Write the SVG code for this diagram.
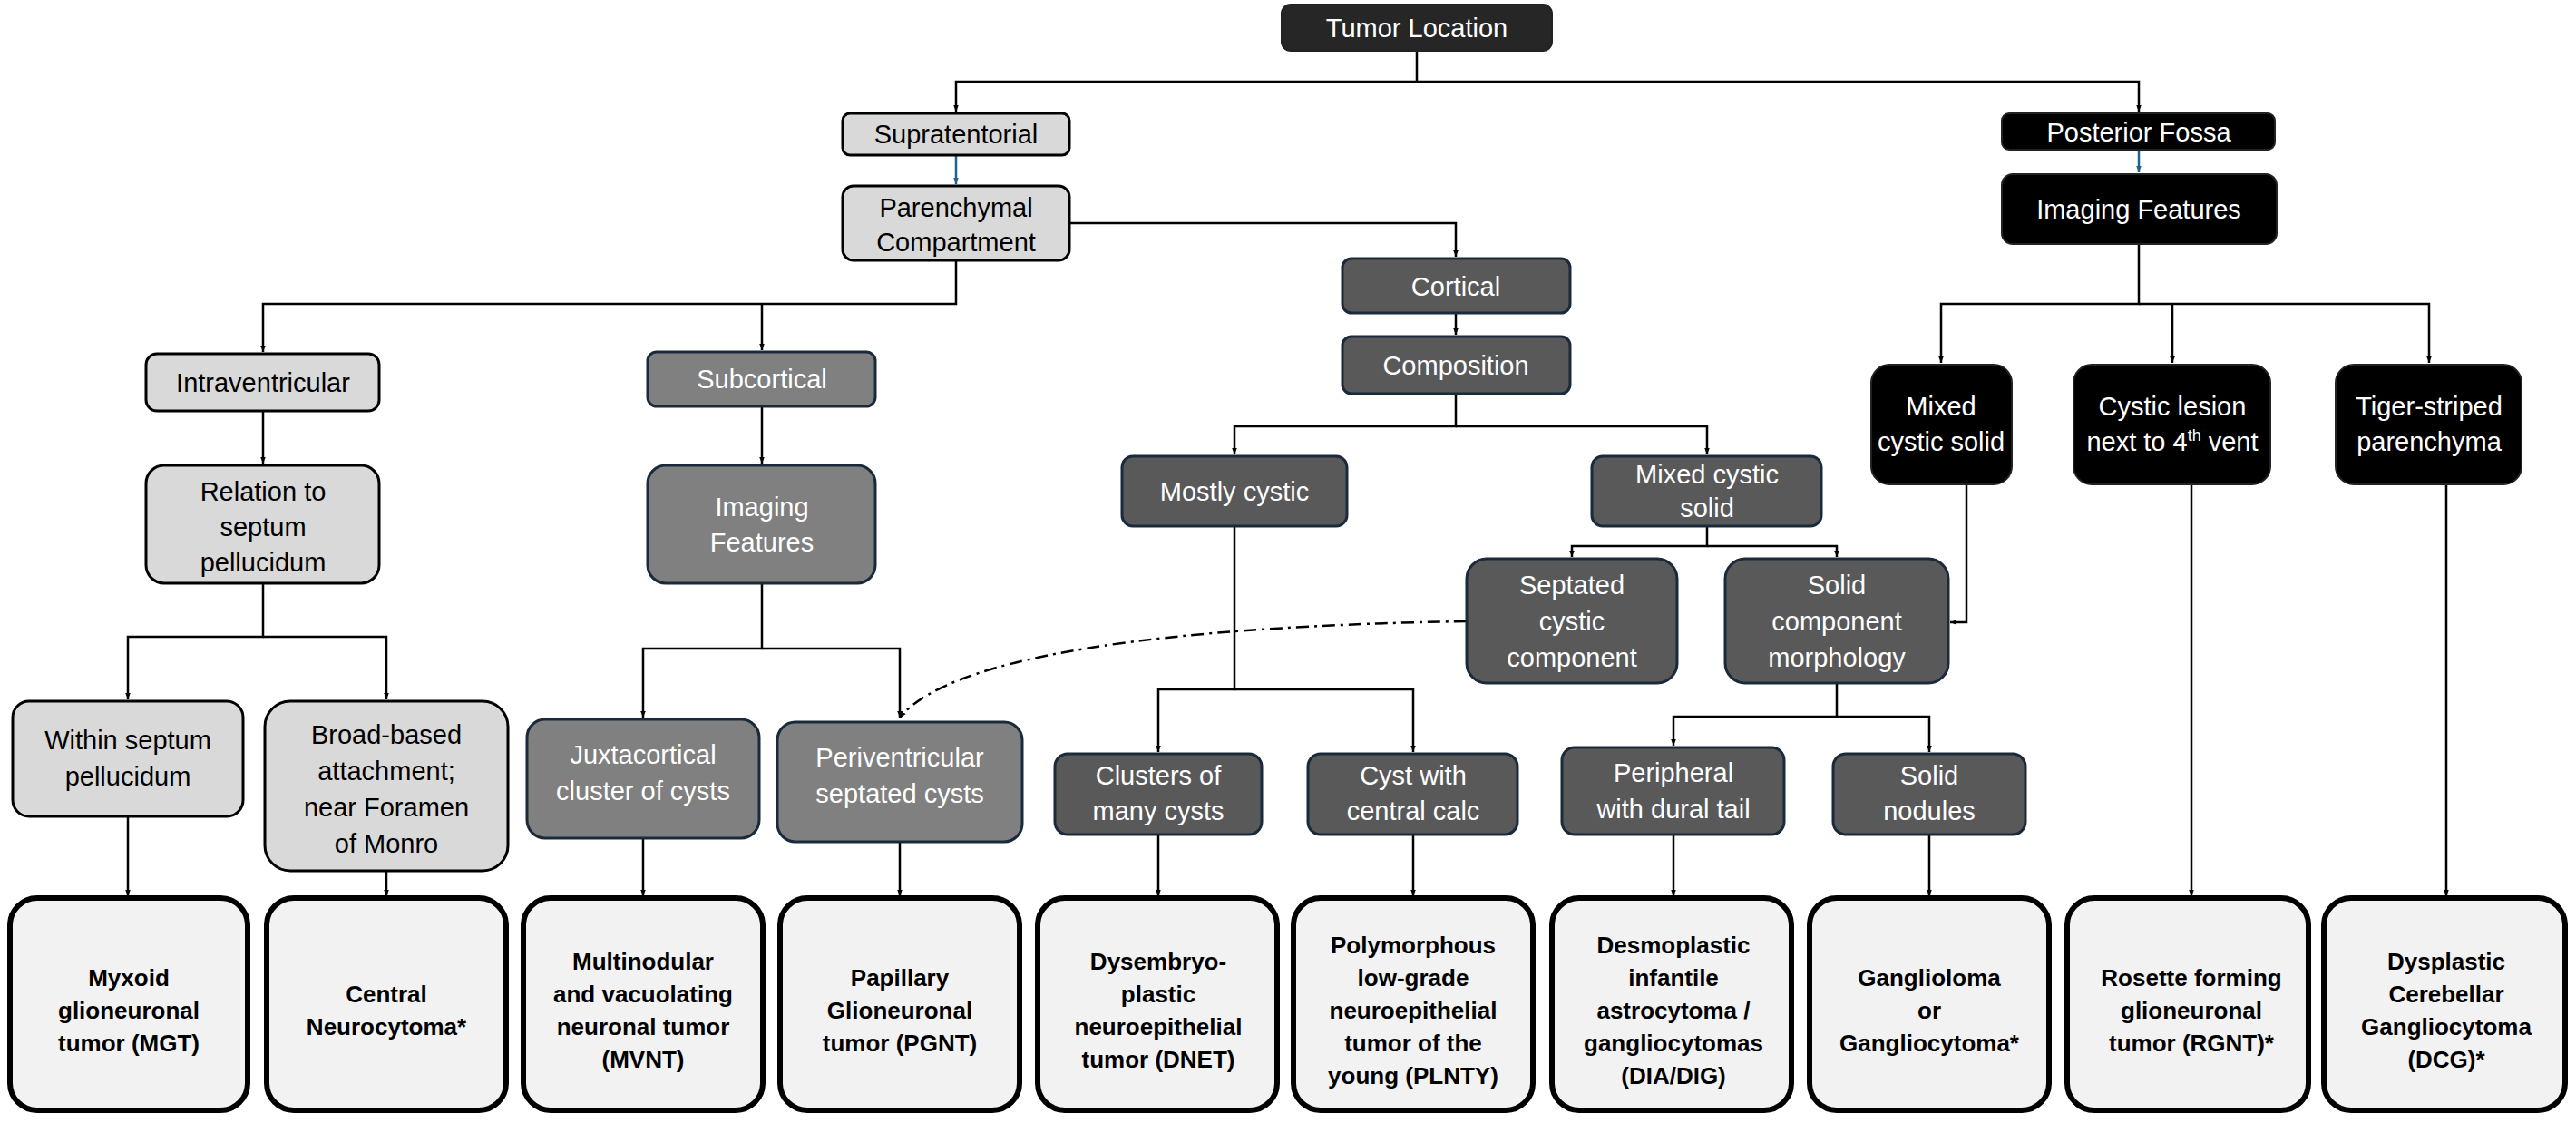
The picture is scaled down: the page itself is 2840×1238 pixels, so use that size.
<svg xmlns="http://www.w3.org/2000/svg" width="2840" height="1238" viewBox="0 0 2840 1238">
<defs>
<marker id="ar" viewBox="0 0 10 10" refX="10" refY="5" markerWidth="7" markerHeight="7" markerUnits="userSpaceOnUse" orient="auto"><path d="M0,1 L10,5 L0,9 z" fill="#000"/></marker>
<marker id="arb" viewBox="0 0 10 10" refX="10" refY="5" markerWidth="7" markerHeight="7" markerUnits="userSpaceOnUse" orient="auto"><path d="M0,1 L10,5 L0,9 z" fill="#1f6391"/></marker>
<style>
text{font-family:"Liberation Sans","Noto Sans",sans-serif;font-size:29px;text-anchor:middle}
.lg rect{fill:#d9d9d9;stroke:#000;stroke-width:3}
.md rect{fill:#808080;stroke:#1a2a3a;stroke-width:3}
.dk rect{fill:#595959;stroke:#1a2a3a;stroke-width:3}
.bk rect{fill:#000;stroke:#222;stroke-width:2}
.md text,.dk text,.bk text{fill:#fff}
.lg text{fill:#000}
.fin rect{fill:#f2f2f2;stroke:#000;stroke-width:6}
.fin text{font-weight:bold;font-size:26px;fill:#000}
#conn path{fill:none;stroke:#000;stroke-width:2.5}
</style>
</defs>
<g id="conn">
<path d="M1562,56 V90 H1054 V123" marker-end="url(#ar)"/>
<path d="M1562,90 H2358 V123" marker-end="url(#ar)"/>
<path d="M1054,171 V203" style="stroke:#1f6391" marker-end="url(#arb)"/>
<path d="M2358,165 V190" style="stroke:#1f6391" marker-end="url(#arb)"/>
<path d="M1179,246 H1605 V283" marker-end="url(#ar)"/>
<path d="M1054,287 V335 H290 V388" marker-end="url(#ar)"/>
<path d="M840,335 V386" marker-end="url(#ar)"/>
<path d="M1605,345 V369" marker-end="url(#ar)"/>
<path d="M1605,434 V470 H1361 V501" marker-end="url(#ar)"/>
<path d="M1605,470 H1882 V501" marker-end="url(#ar)"/>
<path d="M290,453 V511" marker-end="url(#ar)"/>
<path d="M840,448 V511" marker-end="url(#ar)"/>
<path d="M290,643 V702 H141 V771" marker-end="url(#ar)"/>
<path d="M290,702 H426 V771" marker-end="url(#ar)"/>
<path d="M840,643 V715 H709 V791" marker-end="url(#ar)"/>
<path d="M840,715 H992 V791" marker-end="url(#ar)"/>
<path d="M1361,580 V760 H1277 V829" marker-end="url(#ar)"/>
<path d="M1361,760 H1558 V829" marker-end="url(#ar)"/>
<path d="M1882,580 V602 H1733 V614" marker-end="url(#ar)"/>
<path d="M1882,602 H2025 V614" marker-end="url(#ar)"/>
<path d="M2358,269 V335 H2140 V400" marker-end="url(#ar)"/>
<path d="M2358,335 H2678 V400" marker-end="url(#ar)"/>
<path d="M2395,335 V400" marker-end="url(#ar)"/>
<path d="M2168,534 V686 H2150" marker-end="url(#ar)"/>
<path d="M2025,753 V790 H1845 V822" marker-end="url(#ar)"/>
<path d="M2025,790 H2127 V829" marker-end="url(#ar)"/>
<path d="M1617,685 C1300,690 1050,720 992,791" style="stroke-dasharray:14,6,3,6" marker-end="url(#ar)"/>
<path d="M141,900 V988" marker-end="url(#ar)"/>
<path d="M426,960 V988" marker-end="url(#ar)"/>
<path d="M709,924 V988" marker-end="url(#ar)"/>
<path d="M992,928 V988" marker-end="url(#ar)"/>
<path d="M1277,920 V988" marker-end="url(#ar)"/>
<path d="M1558,920 V988" marker-end="url(#ar)"/>
<path d="M1845,920 V988" marker-end="url(#ar)"/>
<path d="M2127,920 V988" marker-end="url(#ar)"/>
<path d="M2416,534 V988" marker-end="url(#ar)"/>
<path d="M2697,534 V988" marker-end="url(#ar)"/>
</g>
<g id="n_tumor" class="bk"><rect x="1413" y="5" width="298" height="51" rx="10" style="fill:#262626"/><text x="1562" y="41">Tumor Location</text></g>
<g id="n_supra" class="lg"><rect x="929" y="125" width="250" height="46" rx="8"/><text x="1054" y="158">Supratentorial</text></g>
<g id="n_paren" class="lg"><rect x="929" y="205" width="250" height="82" rx="12"/><text x="1054" y="239">Parenchymal</text><text x="1054" y="277">Compartment</text></g>
<g id="n_pf" class="bk"><rect x="2207" y="125" width="301" height="40" rx="8"/><text x="2358" y="156">Posterior Fossa</text></g>
<g id="n_pfimg" class="bk"><rect x="2207" y="192" width="303" height="77" rx="12"/><text x="2358" y="241">Imaging Features</text></g>
<g id="n_cort" class="dk"><rect x="1480" y="285" width="251" height="60" rx="10"/><text x="1605" y="326">Cortical</text></g>
<g id="n_comp" class="dk"><rect x="1480" y="371" width="251" height="63" rx="10"/><text x="1605" y="413">Composition</text></g>
<g id="n_intra" class="lg"><rect x="161" y="390" width="257" height="63" rx="12"/><text x="290" y="432">Intraventricular</text></g>
<g id="n_subc" class="md"><rect x="714" y="388" width="251" height="60" rx="10"/><text x="840" y="428">Subcortical</text></g>
<g id="n_rel" class="lg"><rect x="161" y="513" width="257" height="130" rx="20"/><text x="290" y="552">Relation to</text><text x="290" y="591">septum</text><text x="290" y="630">pellucidum</text></g>
<g id="n_subimg" class="md"><rect x="714" y="513" width="251" height="130" rx="20"/><text x="840" y="569">Imaging</text><text x="840" y="608">Features</text></g>
<g id="n_mostly" class="dk"><rect x="1237" y="503" width="248" height="77" rx="12"/><text x="1361" y="552">Mostly cystic</text></g>
<g id="n_mixc" class="dk"><rect x="1755" y="503" width="253" height="77" rx="12"/><text x="1882" y="533">Mixed cystic</text><text x="1882" y="570">solid</text></g>
<g id="n_pfmix" class="bk"><rect x="2063" y="402" width="155" height="132" rx="20"/><text x="2140" y="458">Mixed</text><text x="2140" y="497">cystic solid</text></g>
<g id="n_pfcyst" class="bk"><rect x="2286" y="402" width="217" height="132" rx="20"/><text x="2395" y="458">Cystic lesion</text><text x="2395" y="497">next to 4<tspan font-size="18" dy="-11">th</tspan><tspan dy="11"> vent</tspan></text></g>
<g id="n_tiger" class="bk"><rect x="2575" y="402" width="205" height="132" rx="20"/><text x="2678" y="458">Tiger-striped</text><text x="2678" y="497">parenchyma</text></g>
<g id="n_sept" class="dk"><rect x="1617" y="616" width="232" height="137" rx="22"/><text x="1733" y="655">Septated</text><text x="1733" y="695">cystic</text><text x="1733" y="735">component</text></g>
<g id="n_solid" class="dk"><rect x="1902" y="616" width="246" height="137" rx="22"/><text x="2025" y="655">Solid</text><text x="2025" y="695">component</text><text x="2025" y="735">morphology</text></g>
<g id="n_within" class="lg"><rect x="14" y="773" width="254" height="127" rx="18"/><text x="141" y="826">Within septum</text><text x="141" y="866">pellucidum</text></g>
<g id="n_broad" class="lg"><rect x="292" y="773" width="268" height="187" rx="28"/><text x="426" y="820">Broad-based</text><text x="426" y="860">attachment;</text><text x="426" y="900">near Foramen</text><text x="426" y="940">of Monro</text></g>
<g id="n_juxta" class="md"><rect x="581" y="793" width="256" height="131" rx="20"/><text x="709" y="842">Juxtacortical</text><text x="709" y="882">cluster of cysts</text></g>
<g id="n_peri" class="md"><rect x="857" y="796" width="270" height="132" rx="20"/><text x="992" y="845">Periventricular</text><text x="992" y="885">septated cysts</text></g>
<g id="n_clus" class="dk"><rect x="1163" y="831" width="228" height="89" rx="14"/><text x="1277" y="865">Clusters of</text><text x="1277" y="904">many cysts</text></g>
<g id="n_calc" class="dk"><rect x="1442" y="831" width="231" height="89" rx="14"/><text x="1558" y="865">Cyst with</text><text x="1558" y="904">central calc</text></g>
<g id="n_perip" class="dk"><rect x="1722" y="824" width="245" height="96" rx="14"/><text x="1845" y="862">Peripheral</text><text x="1845" y="902">with dural tail</text></g>
<g id="n_nod" class="dk"><rect x="2021" y="831" width="212" height="89" rx="14"/><text x="2127" y="865">Solid</text><text x="2127" y="904">nodules</text></g>
<g id="f_mgt" class="fin"><rect x="11" y="990" width="262" height="234" rx="30"/><text x="142" y="1087">Myxoid</text><text x="142" y="1123">glioneuronal</text><text x="142" y="1159">tumor (MGT)</text></g>
<g id="f_cn" class="fin"><rect x="294" y="990" width="264" height="234" rx="30"/><text x="426" y="1105">Central</text><text x="426" y="1141">Neurocytoma*</text></g>
<g id="f_mvnt" class="fin"><rect x="577" y="990" width="264" height="234" rx="30"/><text x="709" y="1069">Multinodular</text><text x="709" y="1105">and vacuolating</text><text x="709" y="1141">neuronal tumor</text><text x="709" y="1177">(MVNT)</text></g>
<g id="f_pgnt" class="fin"><rect x="860" y="990" width="264" height="234" rx="30"/><text x="992" y="1087">Papillary</text><text x="992" y="1123">Glioneuronal</text><text x="992" y="1159">tumor (PGNT)</text></g>
<g id="f_dnet" class="fin"><rect x="1144" y="990" width="264" height="234" rx="30"/><text x="1277" y="1069">Dysembryo-</text><text x="1277" y="1105">plastic</text><text x="1277" y="1141">neuroepithelial</text><text x="1277" y="1177">tumor (DNET)</text></g>
<g id="f_plnty" class="fin"><rect x="1426" y="990" width="264" height="234" rx="30"/><text x="1558" y="1051">Polymorphous</text><text x="1558" y="1087">low-grade</text><text x="1558" y="1123">neuroepithelial</text><text x="1558" y="1159">tumor of the</text><text x="1558" y="1195">young (PLNTY)</text></g>
<g id="f_dia" class="fin"><rect x="1711" y="990" width="264" height="234" rx="30"/><text x="1845" y="1051">Desmoplastic</text><text x="1845" y="1087">infantile</text><text x="1845" y="1123">astrocytoma /</text><text x="1845" y="1159">gangliocytomas</text><text x="1845" y="1195">(DIA/DIG)</text></g>
<g id="f_gg" class="fin"><rect x="1995" y="990" width="264" height="234" rx="30"/><text x="2127" y="1087">Ganglioloma</text><text x="2127" y="1123">or</text><text x="2127" y="1159">Gangliocytoma*</text></g>
<g id="f_rgnt" class="fin"><rect x="2279" y="990" width="266" height="234" rx="30"/><text x="2416" y="1087">Rosette forming</text><text x="2416" y="1123">glioneuronal</text><text x="2416" y="1159">tumor (RGNT)*</text></g>
<g id="f_dcg" class="fin"><rect x="2562" y="990" width="266" height="234" rx="30"/><text x="2697" y="1069">Dysplastic</text><text x="2697" y="1105">Cerebellar</text><text x="2697" y="1141">Gangliocytoma</text><text x="2697" y="1177">(DCG)*</text></g>
</svg>
